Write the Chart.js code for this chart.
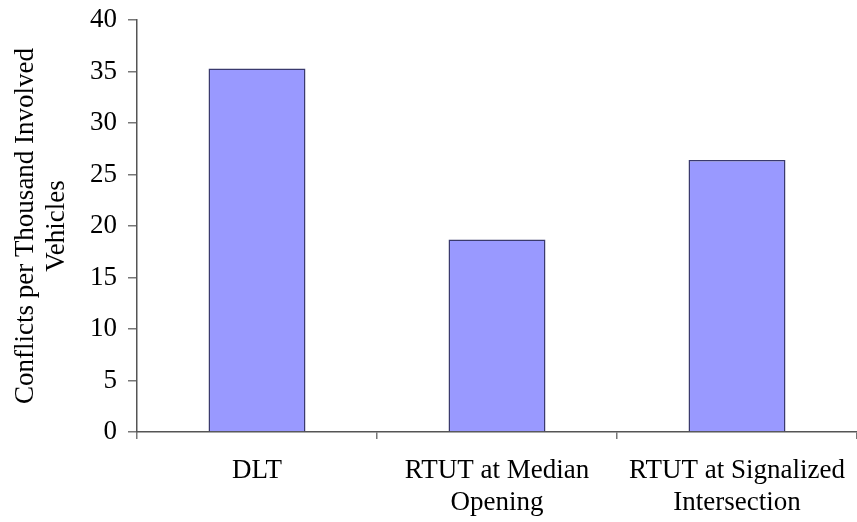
<!DOCTYPE html>
<html>
<head>
<meta charset="utf-8">
<script src="https://cdn.jsdelivr.net/npm/chart.js@4"></script>
<style>
  html, body { margin: 0; padding: 0; background: #fff; }
  #wrap { width: 857px; height: 522px; }
</style>
</head>
<body>
<div id="wrap"><canvas id="conflictChart" width="857" height="522"></canvas></div>
<script>
const categories = [
    'DLT',
    ['RTUT at Median', 'Opening'],
    ['RTUT at Signalized', 'Intersection']
];
const conflictRates = [35.3, 18.7, 26.4];
const yTitle = ['Conflicts per Thousand Involved', 'Vehicles'];

const serif = 'Liberation Serif, Times New Roman, serif';

(function(){
    const canvas = document.getElementById('conflictChart');

    const chart = new Chart(canvas, {
        type: 'bar',
        data: {
            labels: categories,
            datasets: [{
                label: 'Conflicts',
                data: conflictRates,
                backgroundColor: '#9999ff',
                borderColor: '#3a3a6e',
                borderWidth: 1.5,
                barPercentage: 0.404,
                categoryPercentage: 1
            }]
        },
        options: {
            responsive: false,
            animation: false,
            layout: { padding: { top: 20, left: 0, right: 0, bottom: 0 } },
            plugins: {
                legend: { display: false },
                tooltip: { enabled: false }
            },
            scales: {
                x: {
                    afterFit: scale => {
                        scale.height = 90;
                        scale.paddingLeft = 0;
                        scale.paddingRight = 0;
                    },
                    border: { color: '#555', width: 1.5 },
                    grid: {
                        offset: true,
                        drawOnChartArea: false,
                        drawTicks: true,
                        tickLength: 7,
                        color: '#777',
                        lineWidth: 1.5
                    },
                    ticks: {
                        color: '#000',
                        padding: 16,
                        maxRotation: 0,
                        autoSkip: false,
                        font: { family: serif, size: 27, lineHeight: 1.19 }
                    }
                },
                y: {
                    min: 0,
                    max: 40,
                    afterFit: scale => {
                        scale.width = 137;
                        scale.paddingTop = 0;
                        scale.paddingBottom = 0;
                    },
                    border: { color: '#555', width: 1.5 },
                    grid: {
                        drawOnChartArea: false,
                        drawTicks: true,
                        tickLength: 9,
                        color: '#777',
                        lineWidth: 1.5
                    },
                    ticks: {
                        stepSize: 5,
                        color: '#000',
                        padding: 11,
                        font: { family: serif, size: 27 }
                    },
                    title: {
                        display: true,
                        text: yTitle,
                        color: '#000',
                        padding: { top: 10, bottom: 0 },
                        font: { family: serif, size: 27, lineHeight: 1.15 }
                    }
                }
            }
        }
    });
})()
</script>
</body>
</html>
